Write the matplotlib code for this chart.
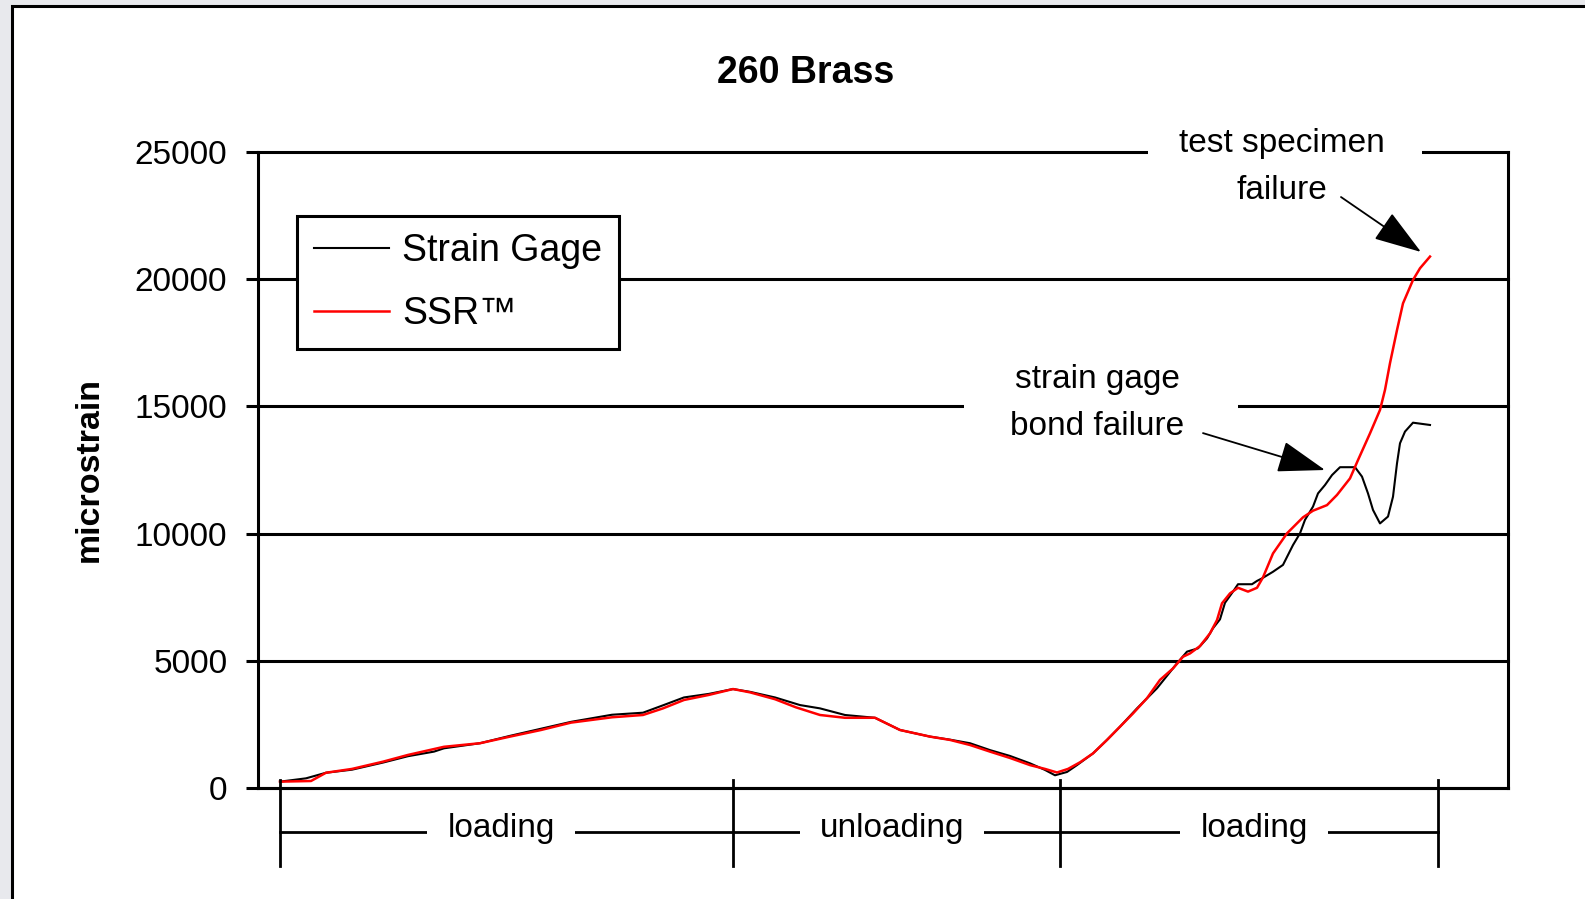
import matplotlib
matplotlib.use("Agg")
import matplotlib.pyplot as plt
import matplotlib.transforms as mtransforms
from matplotlib.patches import Rectangle

plt.rcParams["font.family"] = ["Liberation Sans", "DejaVu Sans"]

# readings taken off the original chart (x = sample step, y = microstrain)
gage_x = [0, 26, 46, 72, 103, 128, 154, 164, 200, 230,
          261, 291, 332, 363, 383, 404, 429, 453, 470, 495,
          520, 540, 565, 595, 620, 650, 670, 690, 710, 730,
          750, 765, 775, 787, 797, 813, 827, 840, 857, 877,
          897, 907, 918, 927, 933, 940, 945, 953, 958, 972,
          977, 982, 993, 1003, 1013, 1020, 1025, 1033, 1038, 1045,
          1052, 1060, 1075, 1082, 1088, 1093, 1100, 1108, 1113, 1117,
          1120, 1125, 1133, 1150]
gage_y = [250, 380, 600, 720, 1000, 1250, 1430, 1560, 1760, 2050,
          2330, 2600, 2880, 2960, 3250, 3560, 3700, 3890, 3780, 3560,
          3260, 3130, 2870, 2760, 2280, 2020, 1900, 1760, 1490, 1260,
          970, 710, 500, 630, 900, 1360, 1890, 2410, 3130, 3920,
          4900, 5360, 5490, 5880, 6280, 6630, 7280, 7720, 8010, 8010,
          8140, 8240, 8500, 8770, 9550, 10010, 10540, 11060, 11580, 11910,
          12300, 12610, 12610, 12240, 11580, 10930, 10400, 10670, 11450, 12760,
          13550, 14010, 14360, 14270]

ssr_x = [0, 31, 46, 72, 103, 128, 164, 200, 230, 261,
         291, 332, 363, 383, 404, 429, 453, 470, 495, 516,
         540, 565, 595, 620, 650, 670, 690, 710, 730, 750,
         765, 777, 788, 800, 813, 827, 840, 853, 867, 880,
         893, 903, 910, 920, 930, 937, 942, 950, 958, 968,
         977, 983, 993, 1007, 1023, 1033, 1047, 1057, 1070, 1078,
         1090, 1100, 1105, 1110, 1117, 1123, 1133, 1140, 1150]
ssr_y = [250, 275, 600, 750, 1035, 1300, 1620, 1760, 2020, 2280,
         2570, 2780, 2870, 3130, 3460, 3660, 3890, 3760, 3490, 3170,
         2870, 2760, 2760, 2280, 2020, 1890, 1690, 1430, 1180, 900,
         750, 610, 750, 1010, 1360, 1890, 2410, 2930, 3530, 4250,
         4700, 5160, 5290, 5580, 6080, 6600, 7260, 7650, 7870, 7720,
         7870, 8280, 9220, 10010, 10640, 10900, 11120, 11520, 12170, 12890,
         13940, 14860, 15650, 16700, 18000, 19050, 19970, 20430, 20890]

phase_edges = [0, 453, 780, 1158]
phase_labels = ["loading", "unloading", "loading"]
phase_label_x = [221, 612, 974]

y_ticks = [0, 5000, 10000, 15000, 20000, 25000]

fig = plt.figure(figsize=(15.85, 8.99), dpi=100, facecolor="#e8e9ed")
# white page with black frame on left/top, like the screenshot
fig.patches.append(Rectangle((12 / 1585, -0.05), 1.1, 1.05 - 6 / 899,
                             transform=fig.transFigure, facecolor="white",
                             edgecolor="black", linewidth=2.2, zorder=-1))

ax = fig.add_axes([258 / 1585, 111 / 899, 1250 / 1585, 636 / 899])
ax.set_facecolor("white")
ax.set_xlim(-22, 1228)
ax.set_ylim(0, 25000)

ax.plot(gage_x, gage_y, color="black", lw=1.5, label="Strain Gage", zorder=2)
ax.plot(ssr_x, ssr_y, color="red", lw=1.8, label="SSR\u2122", zorder=3)

ax.set_yticks(y_ticks)
ax.set_xticks([])
ax.tick_params(axis="y", direction="out", length=8.6, width=2.2,
               pad=13.5, labelsize=24)
ax.set_axisbelow(True)
ax.yaxis.grid(True, color="black", lw=2.2)
for gl in ax.get_ygridlines():
    gl.set_clip_on(False)
for side in ["left", "right", "bottom"]:
    ax.spines[side].set_linewidth(2.2)
ax.spines["top"].set_visible(False)

ax.set_ylabel("microstrain", fontsize=24.5, fontweight="bold")
ax.yaxis.set_label_coords(-0.135, 0.5)
ax.yaxis.label.set_verticalalignment("center")

fig.text(806 / 1585, 0.9073, "260 Brass", ha="center", va="baseline",
         fontsize=27, fontweight="bold")

leg = ax.legend(loc="upper left", bbox_to_anchor=(0.0312, 0.8994),
                borderaxespad=0, fontsize=27, frameon=True, fancybox=False,
                edgecolor="black", framealpha=1, handlelength=2.0,
                handletextpad=0.35, labelspacing=0.72, borderpad=0.45)
leg.get_frame().set_linewidth(2.2)
leg.set_zorder(5)

# callouts: gaps in the grid lines behind the text
ax.add_patch(Rectangle((868, 24500), 274, 1000, facecolor="white",
                       edgecolor="none", zorder=1, clip_on=False))
ax.add_patch(Rectangle((684, 14500), 274, 1000, facecolor="white",
                       edgecolor="none", zorder=1, clip_on=False))
ax.text(1002, 25000, "test specimen", ha="center", va="baseline", fontsize=24, zorder=4)
ax.text(1002, 23150, "failure", ha="center", va="baseline", fontsize=24, zorder=4)
ax.text(817, 15720, "strain gage", ha="center", va="baseline", fontsize=24, zorder=4)
ax.text(817, 13870, "bond failure", ha="center", va="baseline", fontsize=24, zorder=4)

arrow_style = dict(arrowstyle="-|>,head_length=1.5,head_width=0.5", color="black",
                   lw=1.3, shrinkA=0, shrinkB=0, mutation_scale=20)
ax.annotate("", xy=(1141, 21070), xytext=(1061, 23230), arrowprops=arrow_style,
            zorder=6)
ax.annotate("", xy=(1045, 12500), xytext=(923, 13950), arrowprops=arrow_style,
            zorder=6)

# loading / unloading brackets under the axis
trans = mtransforms.blended_transform_factory(ax.transData, ax.transAxes)
for xe in phase_edges:
    ax.plot([xe, xe], [0.0126, -0.1226], color="black", lw=2.0,
            transform=trans, clip_on=False, zorder=3)
ax.plot([phase_edges[0], phase_edges[-1]], [-0.0692, -0.0692], color="black",
        lw=2.0, transform=trans, clip_on=False, zorder=3)
for lx, lab in zip(phase_label_x, phase_labels):
    ax.text(lx, -0.077, lab, transform=trans, ha="center", va="baseline",
            fontsize=24, zorder=4,
            bbox=dict(boxstyle="square,pad=0.6", facecolor="white", edgecolor="none"))

fig.savefig("out.png", dpi=100, facecolor=fig.get_facecolor())
